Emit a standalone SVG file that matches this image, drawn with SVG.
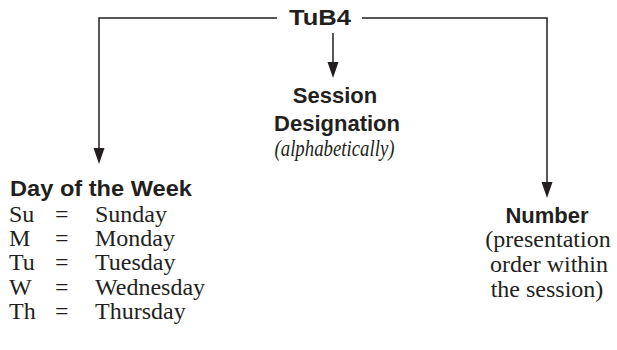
<svg xmlns="http://www.w3.org/2000/svg" width="617" height="350" viewBox="0 0 617 350">
<style>
.h{font-family:"Liberation Sans",Arial,sans-serif;font-weight:bold;font-size:22px;fill:#231f20}
.s{font-family:"Liberation Serif","Times New Roman",serif;font-size:24px;fill:#231f20}
.i{font-style:italic}
.c{stroke:#231f20;stroke-width:1.5;fill:none}
.a{fill:#231f20}
</style>
<g id="connectors">
<path class="c" d="M277,18 H99 V149"/>
<path class="c" d="M362,18 H547 V183"/>
<path class="c" d="M333,33 V64"/>
<path class="a" d="M93.5,148 L104.5,148 L99,164 Z"/>
<path class="a" d="M541.5,182 L552.5,182 L547,198 Z"/>
<path class="a" d="M327.5,62 L338.5,62 L333,78 Z"/>
</g>
<g id="tub4"><text class="h" x="320" y="25" text-anchor="middle" textLength="62" lengthAdjust="spacingAndGlyphs">TuB4</text></g>
<g id="session">
<text class="h" x="335" y="103" text-anchor="middle">Session</text>
<text class="h" x="337" y="131" text-anchor="middle">Designation</text>
<text class="s i" x="334.5" y="156" text-anchor="middle" font-size="25" textLength="120" lengthAdjust="spacingAndGlyphs">(alphabetically)</text>
</g>
<g id="day">
<text class="h" x="10" y="196" textLength="182" lengthAdjust="spacingAndGlyphs">Day of the Week</text>
<g class="s">
<text x="9" y="222">Su</text><text x="55" y="222">=</text><text x="95" y="222">Sunday</text>
<text x="9" y="246">M</text><text x="55" y="246">=</text><text x="95" y="246">Monday</text>
<text x="9" y="270">Tu</text><text x="55" y="270">=</text><text x="95" y="270">Tuesday</text>
<text x="9" y="295">W</text><text x="55" y="295">=</text><text x="95" y="295">Wednesday</text>
<text x="9" y="319">Th</text><text x="55" y="319">=</text><text x="95" y="319">Thursday</text>
</g>
</g>
<g id="number">
<text class="h" x="547" y="223" text-anchor="middle">Number</text>
<text class="s" x="548" y="247" text-anchor="middle">(presentation</text>
<text class="s" x="549" y="272" text-anchor="middle">order within</text>
<text class="s" x="547" y="297" text-anchor="middle">the session)</text>
</g>
</svg>
